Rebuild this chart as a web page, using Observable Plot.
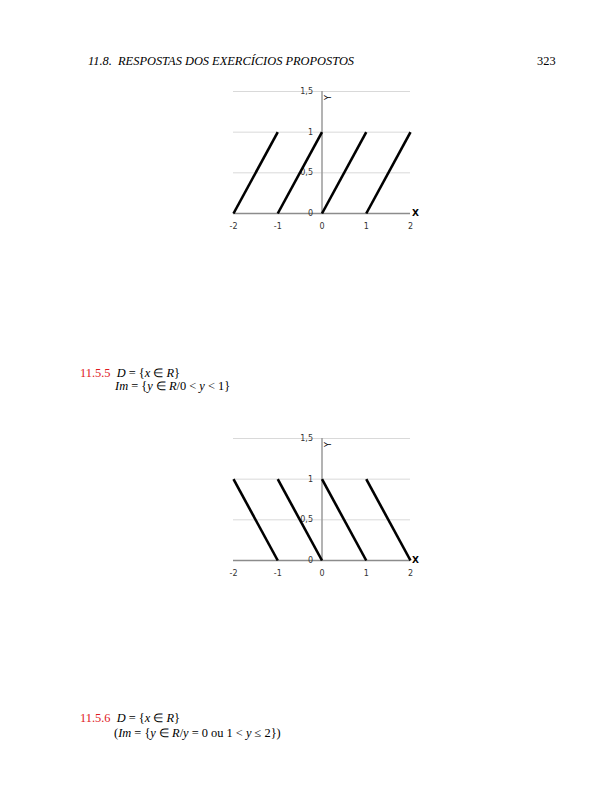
<!DOCTYPE html>
<html>
<head>
<meta charset="utf-8">
<script src="https://cdn.jsdelivr.net/npm/d3@7"></script>
<script src="https://cdn.jsdelivr.net/npm/@observablehq/plot@0.6"></script>
<style>
  html, body { margin: 0; padding: 0; background: #fff; }
  body { width: 612px; height: 792px; position: relative; overflow: hidden; font-family: "Liberation Serif", serif; }
  .t { position: absolute; white-space: nowrap; font-size: 12.4px; line-height: 1; color: #000; }
  .red { color: #e0191e; }
  .it { font-style: italic; }
  .chart { position: absolute; }
</style>
</head>
<body>
<div class="t it" style="left:88px; top:55px;">11.8.&nbsp; RESPOSTAS DOS EXERCÍCIOS PROPOSTOS</div>
<div class="t" style="left:537px; top:55px;">323</div>

<div id="c1" class="chart" style="left:220px; top:80px;"></div>

<div class="t" style="left:80px; top:367px;"><span class="red">11.5.5</span>&nbsp; <i>D</i> = {<i>x</i> ∈ <i>R</i>}</div>
<div class="t" style="left:115px; top:380px;"><i>Im</i> = {<i>y</i> ∈ <i>R</i>/0 &lt; <i>y</i> &lt; 1}</div>

<div id="c2" class="chart" style="left:220px; top:427px;"></div>

<div class="t" style="left:80px; top:712px;"><span class="red">11.5.6</span>&nbsp; <i>D</i> = {<i>x</i> ∈ <i>R</i>}</div>
<div class="t" style="left:114px; top:727px;">(<i>Im</i> = {<i>y</i> ∈ <i>R</i>/<i>y</i> = 0 ou 1 &lt; <i>y</i> ≤ 2})</div>

<script>
const xTicks = [-2, -1, 0, 1, 2];
const xTickLabels = ["-2", "-1", "0", "1", "2"];
const yTicks = [0, 0.5, 1, 1.5];
const yTickLabels = ["0", "0,5", "1", "1,5"];
const gridValues = [0.5, 1, 1.5];

// chart 1: rising segments
const seg1X1 = [-2, -1, 0, 1];
const seg1Y1 = [0, 0, 0, 0];
const seg1X2 = [-1, 0, 1, 2];
const seg1Y2 = [1, 1, 1, 1];

// chart 2: falling segments
const seg2X1 = [-2, -1, 0, 1];
const seg2Y1 = [1, 1, 1, 1];
const seg2X2 = [-1, 0, 1, 2];
const seg2Y2 = [0, 0, 0, 0];

function makeChart(x1, y1, x2, y2) {
  const segs = x1.map((v, i) => ({x1: v, y1: y1[i], x2: x2[i], y2: y2[i]}));
  const yt = yTicks.map((v, i) => ({v, label: yTickLabels[i]}));
  const xt = xTicks.map((v, i) => ({v, label: xTickLabels[i]}));
  return Plot.plot({
    width: 220,
    height: 158,
    marginLeft: 13,
    marginRight: 30,
    marginTop: 11,
    marginBottom: 25,
    x: {domain: [-2, 2], axis: null},
    y: {domain: [0, 1.5], axis: null},
    style: {fontFamily: "DejaVu Sans, sans-serif", fontSize: "8px", background: "transparent"},
    marks: [
      Plot.ruleY(gridValues, {x1: -2, x2: 2, stroke: "#d9d9d9", strokeWidth: 1}),
      Plot.ruleX([0], {y1: 0, y2: 1.5, stroke: "#9a9a9a", strokeWidth: 1.5}),
      Plot.ruleY([0], {x1: -2, x2: 2, stroke: "#8c8c8c", strokeWidth: 1.5}),
      Plot.text(yt, {x: 0, y: "v", text: "label", textAnchor: "end", dx: -9, fill: "#333"}),
      Plot.text(xt, {x: "v", y: 0, text: "label", dy: 13, fill: "#333"}),
      Plot.link(segs, {x1: "x1", y1: "y1", x2: "x2", y2: "y2", stroke: "#000", strokeWidth: 2.6}),
      Plot.text(["Y"], {x: 0, y: 1.5, text: d => d, dx: 6, dy: 6, rotate: -90, fill: "#000", fontSize: 8}),
      Plot.text(["X"], {x: 2, y: 0, text: d => d, dx: 5, textAnchor: "middle", fill: "#000", fontSize: 9, fontWeight: "bold"})
    ]
  });
}

document.getElementById("c1").appendChild(makeChart(seg1X1, seg1Y1, seg1X2, seg1Y2));
document.getElementById("c2").appendChild(makeChart(seg2X1, seg2Y1, seg2X2, seg2Y2));
</script>
</body>
</html>
